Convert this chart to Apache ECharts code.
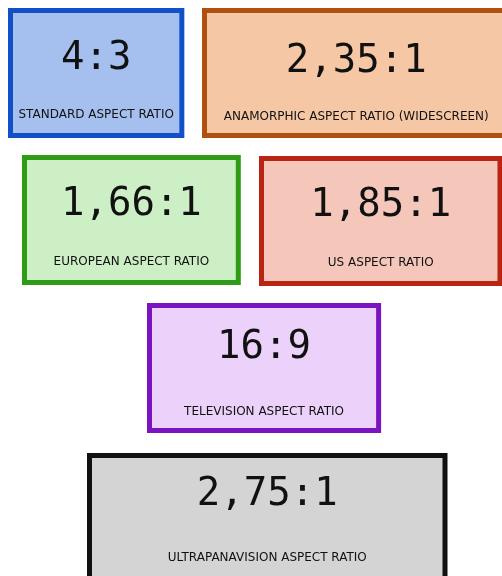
<!DOCTYPE html>
<html>
<head>
<meta charset="utf-8">
<script src="https://cdn.jsdelivr.net/npm/echarts@6/dist/echarts.min.js"></script>
<style>
  html, body { margin: 0; padding: 0; background: #fff; }
  #chart { width: 502px; height: 576px; }
</style>
</head>
<body>
<div id="chart"></div>
<script>
// aspect ratio boxes
const ratioLabels = ['4:3', '2,35:1', '1,66:1', '1,85:1', '16:9', '2,75:1'];
const captions = [
    'STANDARD ASPECT RATIO',
    'ANAMORPHIC ASPECT RATIO (WIDESCREEN)',
    'EUROPEAN ASPECT RATIO',
    'US ASPECT RATIO',
    'TELEVISION ASPECT RATIO',
    'ULTRAPANAVISION ASPECT RATIO'
];
const ratios = [4 / 3, 2.35, 1.66, 1.85, 16 / 9, 2.75];

// layout (px) and colours
const boxLeft = [8, 202, 22, 259, 147, 87];
const boxTop = [8, 8, 155, 156, 303, 453];
const boxHeight = 130;
const bigOffset = [-14, -11, -15, -15, -20, -23];
const smallOffset = [42, 44, 42, 42, 44, 40];
const borderColors = ['#1150c6', '#b0500e', '#2e9c14', '#b82512', '#7a14c0', '#111111'];
const fillColors = ['#a5c0ee', '#f5c7a4', '#cdefc5', '#f5c6ba', '#ecd2fa', '#d4d4d4'];

const chart = echarts.init(document.getElementById('chart'));

const lw = 5;

const option = {
    animation: false,
    grid: { left: 0, right: 0, top: 0, bottom: 0 },
    xAxis: { type: 'value', min: 0, max: 502, show: false },
    yAxis: { type: 'value', min: 0, max: 576, inverse: true, show: false },
    series: [{
        type: 'custom',
        clip: true,
        data: ratios.map((r, i) => [boxLeft[i], boxTop[i], r, i]),
        renderItem: function (params, api) {
            const i = api.value(3);
            // outer width = ratio * height, plus a little for the border
            const w = api.value(2) * boxHeight + 3;
            const p0 = api.coord([api.value(0), api.value(1)]);
            const sz = api.size([w, boxHeight]);
            const cx = p0[0] + sz[0] / 2;
            const cy = p0[1] + sz[1] / 2;
            return {
                type: 'group',
                children: [
                    {
                        type: 'rect',
                        shape: { x: p0[0] + lw / 2, y: p0[1] + lw / 2, width: sz[0] - lw, height: sz[1] - lw },
                        style: { fill: fillColors[i], stroke: borderColors[i], lineWidth: lw }
                    },
                    {
                        type: 'text',
                        x: cx,
                        y: cy + bigOffset[i],
                        style: {
                            text: ratioLabels[i],
                            font: '39px "DejaVu Sans Mono"',
                            fill: '#111',
                            align: 'center',
                            verticalAlign: 'middle'
                        }
                    },
                    {
                        type: 'text',
                        x: cx,
                        y: cy + smallOffset[i],
                        style: {
                            text: captions[i],
                            font: '12px "DejaVu Sans"',
                            fill: '#111',
                            align: 'center',
                            verticalAlign: 'middle'
                        }
                    }
                ]
            };
        }
    }]
};

chart.setOption(option);
</script>
</body>
</html>
